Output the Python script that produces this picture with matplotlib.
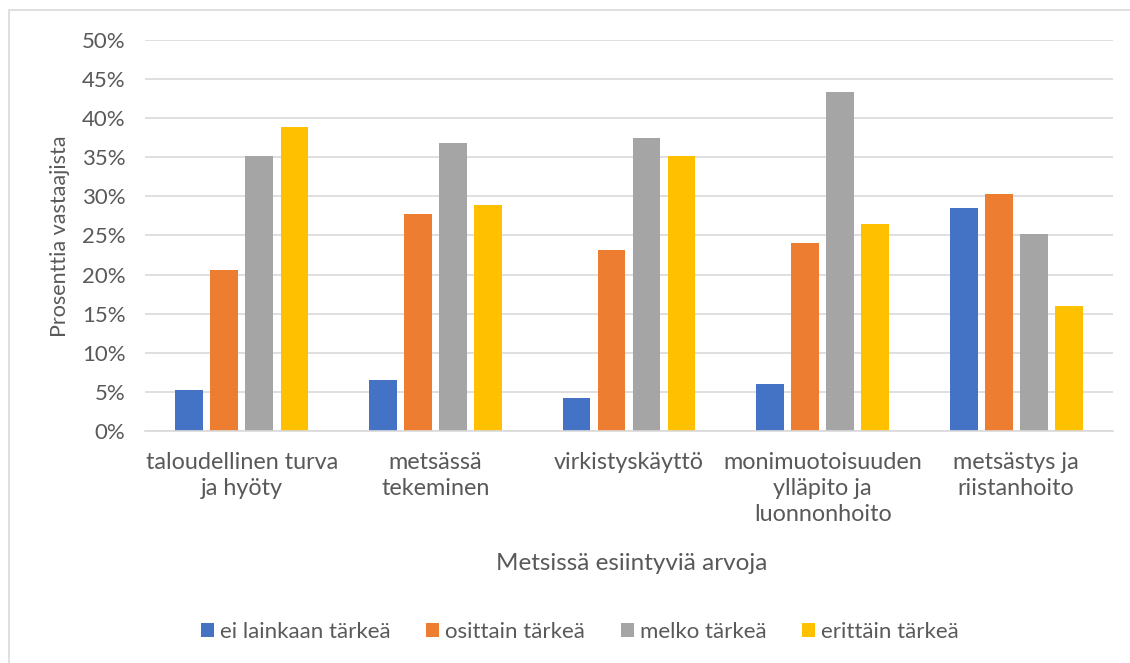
import numpy as np
import matplotlib.pyplot as plt
import matplotlib as mpl
from matplotlib.patches import Rectangle

# --------------------------------------------------------------
# Data
# --------------------------------------------------------------
categories = [
    "taloudellinen turva\nja hyöty",
    "metsässä\ntekeminen",
    "virkistyskäyttö",
    "monimuotoisuuden\nylläpito ja\nluonnonhoito",
    "metsästys ja\nriistanhoito",
]
series_names = ["ei lainkaan tärkeä", "osittain tärkeä", "melko tärkeä", "erittäin tärkeä"]
ei_lainkaan = [5.3, 6.5, 4.2, 6.0, 28.5]
osittain = [20.6, 27.8, 23.1, 24.1, 30.3]
melko = [35.2, 36.8, 37.5, 43.3, 25.2]
erittain = [38.9, 28.9, 35.2, 26.5, 16.0]
yticks = [0, 5, 10, 15, 20, 25, 30, 35, 40, 45, 50]

colors = ["#4472C4", "#ED7D31", "#A5A5A5", "#FFC000"]
text_color = "#595959"
grid_color = "#D9D9D9"

mpl.rcParams["font.family"] = ["Lato", "DejaVu Sans"]

# --------------------------------------------------------------
# Plot
# --------------------------------------------------------------
fig = plt.figure(figsize=(11.3, 6.63), dpi=100)
ax = fig.add_axes([0.1283, 0.350, 0.8567, 0.5897])

x = np.arange(len(categories))
bar_w = 0.143
step = 0.181
all_series = [ei_lainkaan, osittain, melko, erittain]
for i, (vals, name) in enumerate(zip(all_series, series_names)):
    offs = (i - 1.5) * step
    ax.bar(x + offs, vals, width=bar_w, color=colors[i], label=name, zorder=3)

ax.set_xlim(-0.5, len(categories) - 0.5)
ax.set_ylim(0, 50)
ax.set_yticks(yticks)
ax.set_yticklabels([f"{v}%" for v in yticks])
ax.set_xticks(x)
ax.set_xticklabels(categories, linespacing=1.3)

ax.grid(axis="y", color=grid_color, linewidth=1.2, zorder=0)
for side in ["top", "right", "left"]:
    ax.spines[side].set_visible(False)
ax.spines["bottom"].set_color(grid_color)
ax.spines["bottom"].set_linewidth(1.2)
ax.spines["bottom"].set_zorder(4)

ax.tick_params(axis="both", length=0, labelcolor=text_color)
ax.tick_params(axis="y", pad=14, labelsize=16)
ax.tick_params(axis="x", pad=15, labelsize=16.8)

fig.text(60 / 1130, 1 - 236 / 663, "Prosenttia vastaajista", fontsize=15.5,
         color=text_color, rotation=90, ha="center", va="center")
fig.text(0.559, 1 - 563 / 663, "Metsissä esiintyviä arvoja", fontsize=17.5,
         color=text_color, ha="center", va="center")

leg = fig.legend(loc="center", bbox_to_anchor=(0.513, 1 - 632 / 663), ncol=4,
                 frameon=False, fontsize=16, handlelength=0.6, handleheight=0.6,
                 handletextpad=0.26, columnspacing=1.6)
for t in leg.get_texts():
    t.set_color(text_color)

# outer chart border
fig.patches.append(Rectangle((9 / 1130, -0.1), 1.2, 1 - 10 / 663 + 0.1,
                             transform=fig.transFigure, fill=False,
                             edgecolor=grid_color, linewidth=1.2))

plt.savefig("out.png", dpi=100)
